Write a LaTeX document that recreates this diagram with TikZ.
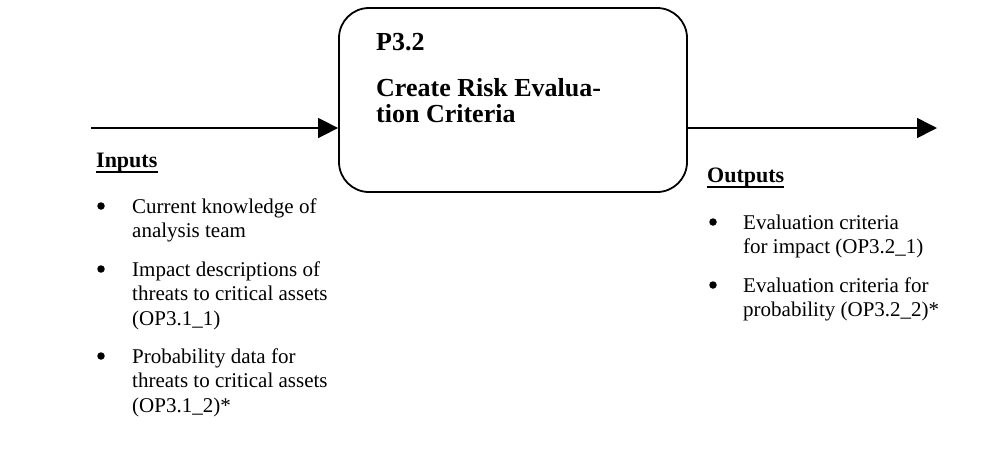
\documentclass[tikz,border=0pt]{standalone}
\usepackage{fontspec}
\setmainfont{Liberation Serif}
\usetikzlibrary{arrows.meta}
\begin{document}
\begin{tikzpicture}[x=1pt,y=-1pt,
  procbox/.style={draw, line width=1.8pt, rounded corners=30pt, minimum width=348pt, minimum height=184pt, inner sep=0pt},
  flow/.style={line width=1.6pt, -{Triangle[length=20pt,width=20pt]}},
  body/.style={inner sep=0pt, anchor=base west, font=\fontsize{21}{24.5}\selectfont},
  head/.style={inner sep=0pt, anchor=base west, font=\fontsize{22}{26}\selectfont\bfseries},
  ttl/.style={inner sep=0pt, anchor=base west, font=\fontsize{26}{26}\selectfont\bfseries},
  bul/.style={circle, fill, inner sep=0pt, minimum size=7.5pt},
  uline/.style={line width=1.3pt}
]
\useasboundingbox (0,0) rectangle (1005,456);
\node[procbox] (proc) at (513,100) {};
\node[ttl] (pid) at (376,50) {P3.2};
\node[ttl] (pname) at (376,96) {\begin{tabular}[t]{@{}l@{}}Create Risk Evalua-\\tion Criteria\end{tabular}};
\coordinate (inStart) at (91,128);
\coordinate (outEnd) at (937,128);
\draw[flow] (inStart) -- (inStart -| proc.west);
\draw[flow] (proc.east |- outEnd) -- (outEnd);
% inputs
\node[head] (inhead) at (96,167) {Inputs};
\draw[uline] ([yshift=-5pt]inhead.base west) -- ([yshift=-5pt]inhead.base east);
\node[bul] (ib1) at (101,206) {};
\node[body] (in1) at (132,213) {\begin{tabular}[t]{@{}l@{}}Current knowledge of\\analysis team\end{tabular}};
\node[bul] (ib2) at (101,269) {};
\node[body] (in2) at (132,276) {\begin{tabular}[t]{@{}l@{}}Impact descriptions of\\threats to critical assets\\(OP3.1\_1)\end{tabular}};
\node[bul] (ib3) at (101,356) {};
\node[body] (in3) at (132,363) {\begin{tabular}[t]{@{}l@{}}Probability data for\\threats to critical assets\\(OP3.1\_2)*\end{tabular}};
% outputs
\node[head] (outhead) at (707,182) {Outputs};
\draw[uline] ([yshift=-5pt]outhead.base west) -- ([yshift=-5pt]outhead.base east);
\node[bul] (ob1) at (713,222) {};
\node[body] (out1) at (743,229) {\begin{tabular}[t]{@{}l@{}}Evaluation criteria\\for impact (OP3.2\_1)\end{tabular}};
\node[bul] (ob2) at (713,285) {};
\node[body] (out2) at (743,292) {\begin{tabular}[t]{@{}l@{}}Evaluation criteria for\\probability (OP3.2\_2)*\end{tabular}};
\end{tikzpicture}
\end{document}
